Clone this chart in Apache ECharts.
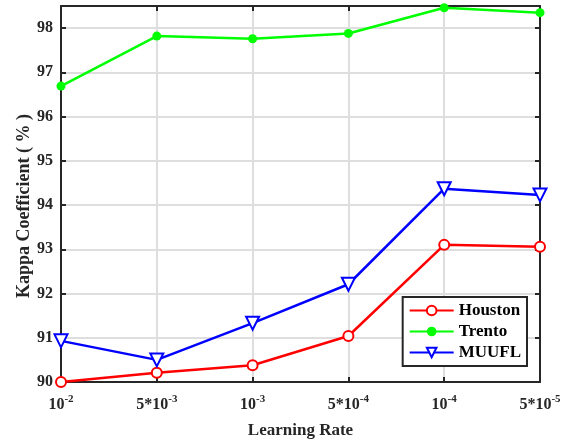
<!DOCTYPE html>
<html>
<head>
<meta charset="utf-8">
<script src="https://cdn.jsdelivr.net/npm/echarts@6/dist/echarts.min.js"></script>
<style>html,body{margin:0;padding:0;background:#fff}#c{width:571px;height:441px}</style>
</head>
<body>
<div id="c"></div>
<script>
// Learning-rate categories, written as rich text: base part {b|..} and exponent {s|..}
const categories = ['{b|10}{s|-2}', '{b|5*10}{s|-3}', '{b|10}{s|-3}', '{b|5*10}{s|-4}', '{b|10}{s|-4}', '{b|5*10}{s|-5}'];
const houston = [90.00, 90.21, 90.38, 91.04, 93.10, 93.06];
const trento  = [96.69, 97.82, 97.76, 97.88, 98.46, 98.35];
const muufl   = [90.93, 90.50, 91.33, 92.21, 94.37, 94.23];
const yTicks = [90, 91, 92, 93, 94, 95, 96, 97, 98];

const FONT = 'Liberation Serif';
const INK = '#262626';
const chart = echarts.init(document.getElementById('c'));

const frameLine = { show: true, lineStyle: { color: INK, width: 2 } };
const frameTick = { show: true, inside: true, length: 5, lineStyle: { color: INK, width: 2 } };
const gridLine = { show: true, lineStyle: { color: '#dedede', width: 2 } };

chart.setOption({
  animation: false,
  backgroundColor: '#fff',
  grid: { left: 61, right: 31, top: 6, bottom: 59, show: false, outerBoundsMode: 'none', containLabel: false },
  legend: {
    right: 44, top: 297, orient: 'vertical',
    backgroundColor: '#fff', borderColor: INK, borderWidth: 2,
    padding: [5, 6, 5, 6], itemGap: 4, itemWidth: 44, itemHeight: 12,
    textStyle: { fontFamily: FONT, fontWeight: 'bold', fontSize: 17, color: '#000' },
    data: ['Houston', 'Trento', 'MUUFL']
  },
  xAxis: [{
    type: 'category', data: categories, boundaryGap: false,
    name: 'Learning Rate', nameLocation: 'middle', nameGap: 40,
    nameTextStyle: { fontFamily: FONT, fontWeight: 'bold', fontSize: 17, color: INK },
    axisLine: frameLine,
    axisTick: Object.assign({ alignWithLabel: true, interval: 0 }, frameTick),
    axisLabel: {
      interval: 0, hideOverlap: false,
      margin: 12, color: INK, fontFamily: FONT, fontWeight: 'bold', fontSize: 16,
      rich: {
        b: { fontFamily: FONT, fontWeight: 'bold', fontSize: 16, lineHeight: 22, color: INK },
        s: { fontFamily: FONT, fontWeight: 'bold', fontSize: 11, lineHeight: 11, verticalAlign: 'top', color: INK }
      }
    },
    splitLine: Object.assign({ interval: 0 }, gridLine)
  }, {
    type: 'category', data: categories, boundaryGap: false, position: 'top',
    axisLine: frameLine,
    axisTick: Object.assign({ alignWithLabel: true, interval: 0 }, frameTick),
    axisLabel: { show: false, interval: 0 }, splitLine: { show: false }
  }],
  yAxis: [{
    type: 'value', min: 90, max: 98.5, interval: 1,
    name: 'Kappa Coefficient ( % )', nameLocation: 'middle', nameGap: 28, nameRotate: 90,
    nameMoveOverlap: false,
    nameTextStyle: { fontFamily: FONT, fontWeight: 'bold', fontSize: 18, color: INK, padding: [0, 24, 0, 0] },
    axisLine: frameLine, axisTick: frameTick,
    axisLabel: {
      margin: 8, color: INK, fontFamily: FONT, fontWeight: 'bold', fontSize: 16,
      formatter: v => (yTicks.indexOf(v) >= 0 ? String(v) : '')
    },
    splitLine: gridLine
  }, {
    type: 'value', min: 90, max: 98.5, interval: 1, position: 'right',
    axisLine: frameLine, axisTick: frameTick,
    axisLabel: { show: false }, splitLine: { show: false }
  }],
  series: [{
    name: 'Houston', type: 'line', data: houston, z: 3,
    symbol: 'emptyCircle', symbolSize: 10,
    lineStyle: { color: '#ff0000', width: 2.5 },
    itemStyle: { color: '#ff0000', borderColor: '#ff0000', borderWidth: 2.5 }
  }, {
    name: 'Trento', type: 'line', data: trento, z: 3,
    symbol: 'circle', symbolSize: 9,
    lineStyle: { color: '#00ff00', width: 2.5 },
    itemStyle: { color: '#00ff00' }
  }, {
    name: 'MUUFL', type: 'line', data: muufl, z: 3,
    symbol: 'emptyTriangle', symbolSize: 13, symbolRotate: 180,
    lineStyle: { color: '#0000ff', width: 2.5 },
    itemStyle: { color: '#0000ff', borderColor: '#0000ff', borderWidth: 2.5 }
  }]
});
</script>
</body>
</html>
